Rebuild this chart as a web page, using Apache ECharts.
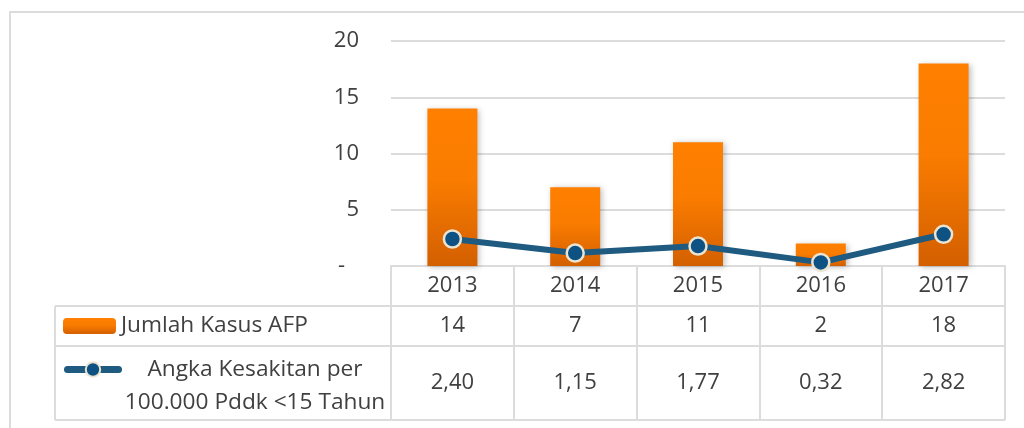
<!DOCTYPE html>
<html>
<head>
<meta charset="utf-8">
<script src="https://cdn.jsdelivr.net/npm/echarts@6/dist/echarts.min.js"></script>
<style>
    html, body { margin: 0; padding: 0; background: #fff; }
    #main { width: 1024px; height: 428px; }
</style>
</head>
<body>
<div id="main"></div>
<script type="text/javascript">
    // data
    var years = ['2013', '2014', '2015', '2016', '2017'];
    var kasusAFP = [14, 7, 11, 2, 18];
    var angkaKesakitan = [2.40, 1.15, 1.77, 0.32, 2.82];
    var yTicks = [0, 5, 10, 15, 20];

    var namaBar = 'Jumlah Kasus AFP';
    var namaLine = 'Angka Kesakitan per 100.000 Pddk <15 Tahun';

    var fontName = '"Open Sans", "Noto Sans", sans-serif';
    var textColor = '#404040';
    var gridColor = '#dcdcdc';

    function koma(v){
        return v.toFixed(2).replace('.', ',');
    }

    var myChart = echarts.init(document.getElementById('main'));
    var myOption = {
        animation: false,
        textStyle: { fontFamily: fontName },
        grid: { left: 391, right: 19, top: 41, bottom: 162 },
        legend: [
            {
                left: 63, top: 314, padding: 0,
                itemWidth: 53, itemHeight: 16,
                textStyle: { fontSize: 22.7, color: textColor, fontFamily: fontName, lineHeight: 24 },
                data: [namaBar]
            },
            {
                left: 64, top: 358, padding: 0,
                itemWidth: 51, itemHeight: 18,
                lineStyle: { width: 7, cap: 'round' },
                formatter: function(){
                    return '{c|Angka Kesakitan per}\n{c|100.000 Pddk <15 Tahun}';
                },
                textStyle: {
                    fontSize: 22, color: textColor, fontFamily: fontName,
                    padding: [33, 0, 0, 0],
                    rich: {
                        c: { width: 263, align: 'center', fontSize: 22.7, lineHeight: 33,
                             color: textColor, fontFamily: fontName }
                    }
                },
                data: [namaLine]
            }
        ],
        xAxis: {
            type: 'category',
            data: years,
            boundaryGap: true,
            axisLine: { show: true, lineStyle: { color: gridColor, width: 2 } },
            axisTick: { show: true, length: 154, interval: 0, lineStyle: { color: gridColor, width: 2 } },
            axisLabel: {
                margin: 0,
                interval: 0,
                formatter: function(value, idx){
                    return '{y|' + value + '}\n{a|' + kasusAFP[idx] + '}\n{b|' + koma(angkaKesakitan[idx]) + '}';
                },
                rich: {
                    y: { fontSize: 22, lineHeight: 40, color: textColor, fontFamily: fontName },
                    a: { fontSize: 22, lineHeight: 40, color: textColor, fontFamily: fontName },
                    b: { fontSize: 22, lineHeight: 74, color: textColor, fontFamily: fontName }
                }
            }
        },
        yAxis: {
            type: 'value',
            min: yTicks[0],
            max: yTicks[yTicks.length - 1],
            interval: 5,
            axisLine: { show: false },
            axisTick: { show: false },
            splitLine: { lineStyle: { color: gridColor, width: 2 } },
            axisLabel: {
                margin: 32,
                fontSize: 22,
                color: textColor,
                fontFamily: fontName,
                formatter: function(v){
                    return v === 0 ? '{d|-}' : String(v);
                },
                rich: {
                    d: { fontSize: 22, color: textColor, padding: [0, 14, 0, 0], fontFamily: fontName }
                }
            }
        },
        series: [
            {
                name: namaBar,
                type: 'bar',
                barWidth: 50,
                itemStyle: {
                    color: new echarts.graphic.LinearGradient(0, 0, 0, 1, [
                        { offset: 0, color: '#FF8000' },
                        { offset: 0.45, color: '#FA7C00' },
                        { offset: 1, color: '#D35F00' }
                    ]),
                    shadowColor: 'rgba(0,0,0,0.25)',
                    shadowBlur: 6,
                    shadowOffsetX: 2,
                    shadowOffsetY: 1
                },
                data: kasusAFP
            },
            {
                name: namaLine,
                type: 'line',
                symbol: 'circle',
                symbolSize: 17,
                lineStyle: { color: '#1F5A80', width: 6 },
                itemStyle: {
                    color: '#0E5183',
                    borderColor: '#EBE4D3',
                    borderWidth: 2.5
                },
                data: angkaKesakitan
            }
        ],
        graphic: [
            // chart border
            { type: 'rect', shape: { x: 10, y: 12, width: 1030, height: 440 },
              style: { fill: null, stroke: gridColor, lineWidth: 2 }, silent: true },
            // data table rows on the left part
            { type: 'line', shape: { x1: 55, y1: 306, x2: 1005, y2: 306 }, style: { stroke: gridColor, lineWidth: 2 } },
            { type: 'line', shape: { x1: 55, y1: 346, x2: 1005, y2: 346 }, style: { stroke: gridColor, lineWidth: 2 } },
            { type: 'line', shape: { x1: 55, y1: 420, x2: 1005, y2: 420 }, style: { stroke: gridColor, lineWidth: 2 } },
            { type: 'line', shape: { x1: 55, y1: 306, x2: 55, y2: 420 }, style: { stroke: gridColor, lineWidth: 2 } }
        ]
    };

    myChart.setOption(myOption);
</script>
</body>
</html>
